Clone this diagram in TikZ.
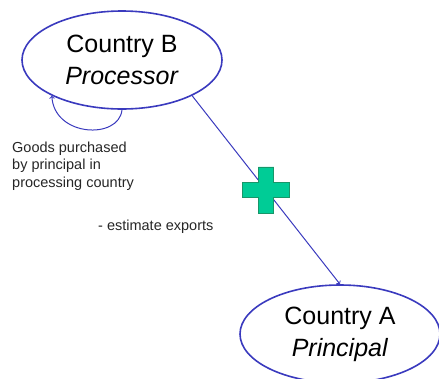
\documentclass[tikz,border=0pt]{standalone}
\usepackage{fontspec}
\setmainfont{Liberation Sans}
\usepackage{tikz}
\usetikzlibrary{arrows,shapes.geometric}
\definecolor{linkblue}{RGB}{58,58,190}
\definecolor{plusfill}{RGB}{0,204,150}
\definecolor{plusedge}{RGB}{24,150,105}
\tikzset{
country/.style={ellipse,draw=linkblue,line width=1.6pt,minimum width=200pt,minimum height=98pt,inner sep=0pt,align=center,font=\fontsize{25}{32}\selectfont},
note/.style={anchor=west,inner sep=0pt,align=left,font=\fontsize{14.5}{17.5}\selectfont,text=black!85},
link/.style={draw=linkblue,line width=1pt,-to}
}

\begin{document}
\begin{tikzpicture}[x=1pt,y=-1pt]
\useasboundingbox (0,0) rectangle (439,378);
\node[country] (B) at (122,60) {Country B\\\textit{Processor}};
\node[country] (A) at (340,334) {Country A\\\textit{Principal}};
\node[note] (goods) at (12,166) {Goods purchased\\by principal in\\processing country};
\node[note] (est) at (98,227) {- estimate exports};
\draw[link] (B.south) .. controls (119,140) and (54,137) .. (B.207);
\draw[link] (B.-27) -- coordinate[pos=0.5] (mid) (A.north);
\begin{scope}[shift={(mid)}]
\filldraw[fill=plusfill,draw=plusedge,line width=0.8pt] (-7.75,-23) -- (7.75,-23) -- (7.75,-7.75) -- (23.5,-7.75) -- (23.5,7.75) -- (7.75,7.75) -- (7.75,23) -- (-7.75,23) -- (-7.75,7.75) -- (-23.5,7.75) -- (-23.5,-7.75) -- (-7.75,-7.75) -- cycle;
\end{scope}
\end{tikzpicture}
\end{document}
